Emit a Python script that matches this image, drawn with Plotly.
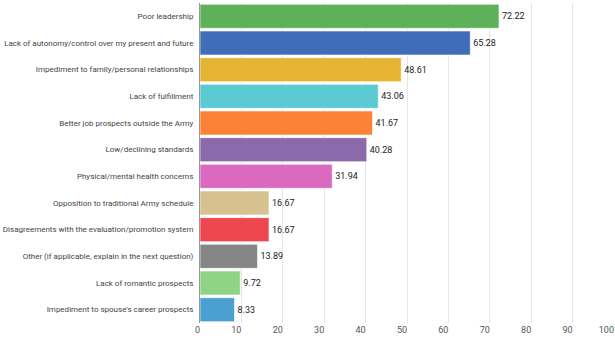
import plotly.graph_objects as go

categories = [
    "Poor leadership",
    "Lack of autonomy/control over my present and future",
    "Impediment to family/personal relationships",
    "Lack of fulfillment",
    "Better job prospects outside the Army",
    "Low/declining standards",
    "Physical/mental health concerns",
    "Opposition to traditional Army schedule",
    "Disagreements with the evaluation/promotion system",
    "Other (if applicable, explain in the next question)",
    "Lack of romantic prospects",
    "Impediment to spouse's career prospects",
]
values = [72.22, 65.28, 48.61, 43.06, 41.67, 40.28, 31.94, 16.67, 16.67, 13.89, 9.72, 8.33]
colors = [
    "#5db158", "#3f6db8", "#e5b432", "#5ccad3", "#fc8336", "#8a6aab",
    "#db69bf", "#d6c28f", "#ee4750", "#868686", "#8ed484", "#4aa0d0",
]
tick_vals = [0, 10, 20, 30, 40, 50, 60, 70, 80, 90, 100]

fig = go.Figure(
    go.Bar(
        x=values,
        y=categories,
        orientation="h",
        marker=dict(color=colors, line=dict(color="rgba(255,255,255,0.6)", width=1)),
        text=[f"{v:.2f}" for v in values],
        textposition="outside",
        textfont=dict(size=9, color="#222222", family="Roboto"),
        cliponaxis=False,
    )
)

fig.update_layout(
    width=615,
    height=342,
    margin=dict(l=200, r=1, t=3, b=19),
    paper_bgcolor="white",
    plot_bgcolor="white",
    bargap=0.1,
    font=dict(family="Roboto", size=8, color="#444444"),
    showlegend=False,
)
fig.update_xaxes(
    range=[0, 100],
    tickvals=tick_vals,
    showgrid=True,
    gridcolor="#e6e6e6",
    gridwidth=1,
    zeroline=False,
    ticklabelposition="outside left",
    tickfont=dict(size=9, color="#555555"),
    ticks="",
    automargin=False,
)
fig.update_yaxes(
    autorange="reversed",
    showline=True,
    linecolor="#999999",
    linewidth=1,
    ticks="",
    ticklabelstandoff=4,
    tickfont=dict(size=8, color="#444444"),
    automargin=False,
)

fig.write_html("out.html")
